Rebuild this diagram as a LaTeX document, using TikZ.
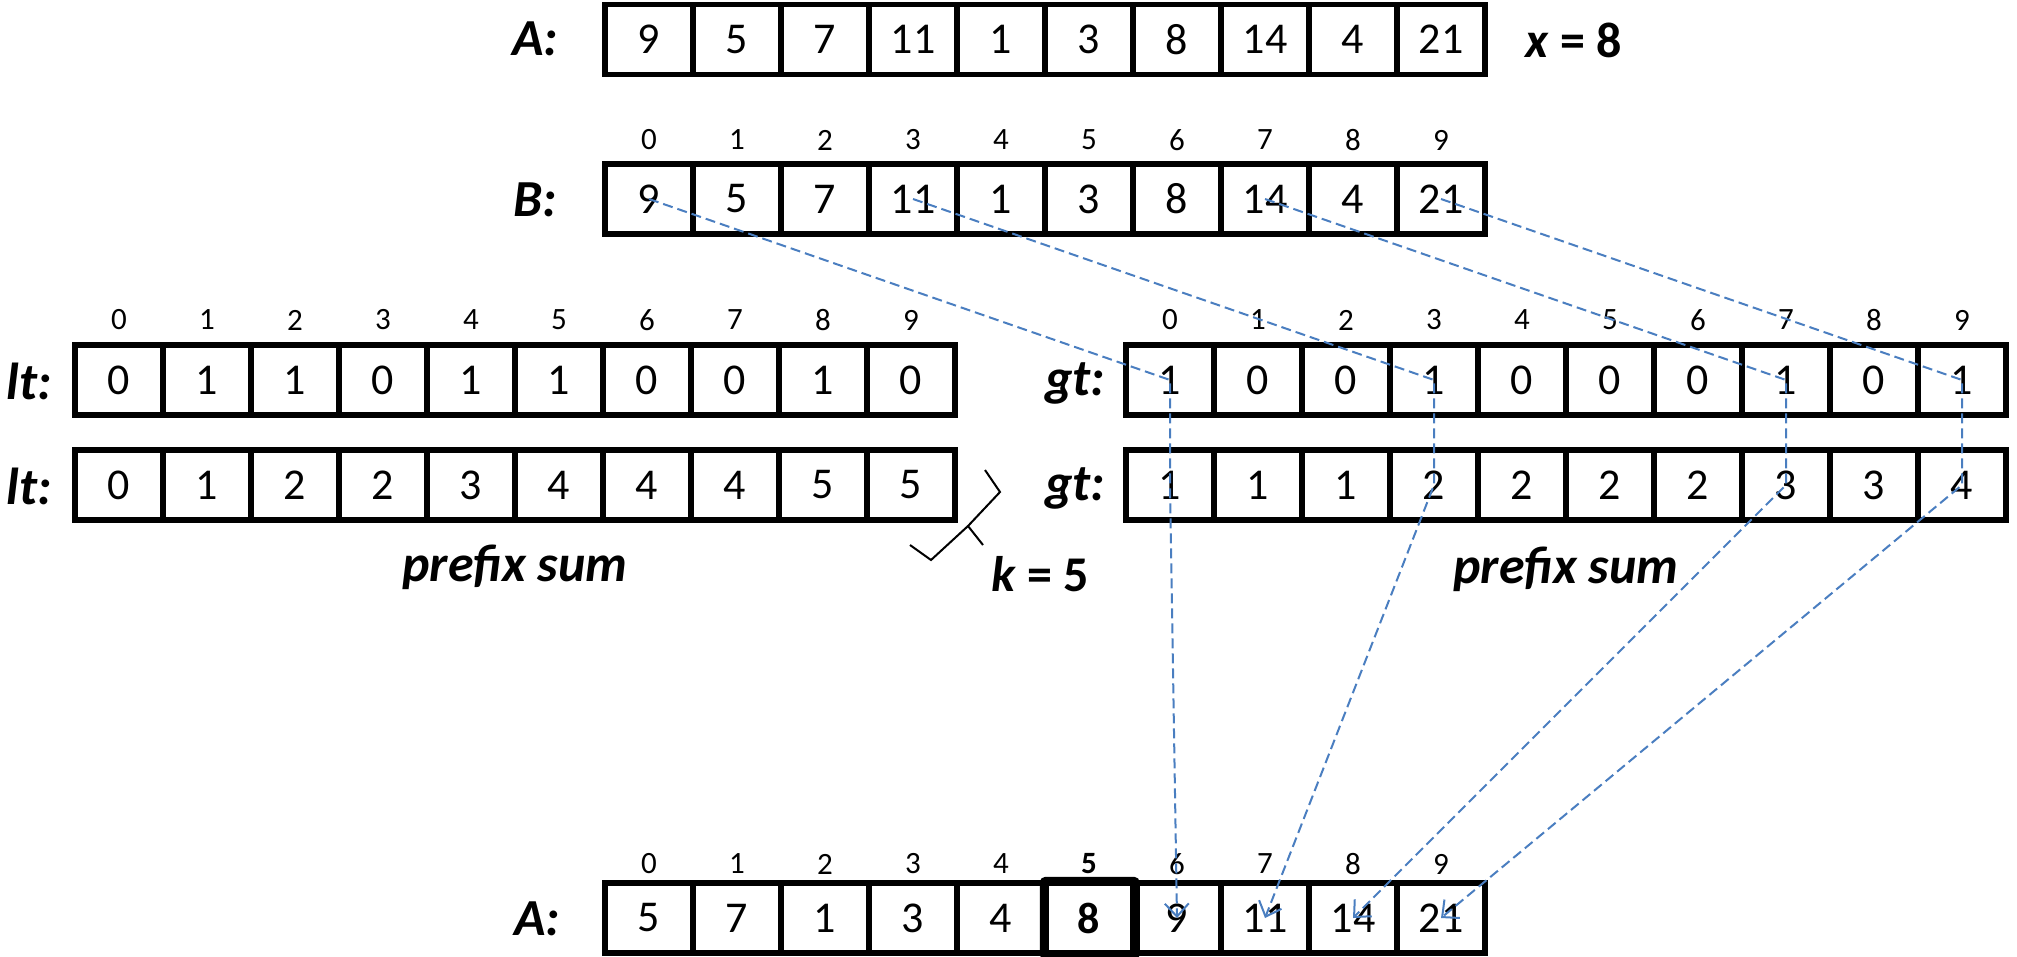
\documentclass[tikz,border=0pt]{standalone}
\usepackage{fontspec}
\setmainfont{Carlito}
\usetikzlibrary{arrows.meta}
\definecolor{arrowblue}{RGB}{74,126,192}
\tikzset{
  cell/.style={draw, line width=5.5pt, minimum width=88pt, minimum height=70pt, inner sep=0pt, font=\fontsize{44}{44}\selectfont},
  idx/.style={inner sep=0pt, font=\fontsize{31}{31}\selectfont},
  lbl/.style={inner sep=0pt, font=\fontsize{52}{52}\selectfont\bfseries\itshape},
  note/.style={inner sep=0pt, font=\fontsize{50}{50}\selectfont\bfseries},
  flow/.style={draw=arrowblue, line width=2pt, dash pattern=on 10pt off 5pt, -{Straight Barb[length=13pt,width=24pt]}},
  bracemark/.style={draw, line width=2pt, line join=miter}
}
\begin{document}
\begin{tikzpicture}[x=1pt,y=-1pt]
\useasboundingbox (0,0) rectangle (2017,956);
% top A row
\foreach \v [count=\i from 0] in {9,5,7,11,1,3,8,14,4,21}
  \node[cell] (ta\i) at ({649+88*\i},39.5) {\v};
\node[lbl] (lA) at (535,39) {A:};
\node[note] (xeq) at (1574,40) {\textit{x} = 8};
% B row
\foreach \v [count=\i from 0] in {9,5,7,11,1,3,8,14,4,21}{
  \node[cell] (b\i) at ({649+88*\i},199) {\v};
  \node[idx] (bi\i) at ({649+88*\i},140) {\i};
}
\node[lbl] (lB) at (535,200) {B:};
% lt rows
\foreach \v [count=\i from 0] in {0,1,1,0,1,1,0,0,1,0}{
  \node[cell] (lt\i) at ({119+88*\i},380) {\v};
  \node[idx] (lti\i) at ({119+88*\i},320) {\i};
}
\foreach \v [count=\i from 0] in {0,1,2,2,3,4,4,4,5,5}
  \node[cell] (lp\i) at ({119+88*\i},485) {\v};
\node[lbl] (llt1) at (29,381) {lt:};
\node[lbl] (llt2) at (29,486) {lt:};
% gt rows
\foreach \v [count=\i from 0] in {1,0,0,1,0,0,0,1,0,1}{
  \node[cell] (gt\i) at ({1170+88*\i},380) {\v};
  \node[idx] (gti\i) at ({1170+88*\i},320) {\i};
}
\foreach \v [count=\i from 0] in {1,1,1,2,2,2,2,3,3,4}
  \node[cell] (gp\i) at ({1170+88*\i},485) {\v};
\node[lbl] (lgt1) at (1075,383) {gt:};
\node[lbl] (lgt2) at (1075,488) {gt:};
% prefix sum labels
\node[lbl] (ps1) at (515,567) {prefix sum};
\node[lbl] (ps2) at (1566,569) {prefix sum};
% brace and k
\draw[bracemark] (985,470) -- (1000,492) -- (968,526) -- (983,545);
\draw[bracemark] (968,526) -- (931,560) -- (910,545);
\node[note] (keq) at (1040,574) {\textit{k} = 5};
% bottom A row
\foreach \v [count=\i from 0] in {5,7,1,3,4,8,9,11,14,21}{
  \ifnum\i=5
    \node[cell, font=\fontsize{44}{44}\selectfont\bfseries] (ra\i) at ({649+88*\i},918) {\v};
    \node[idx, font=\fontsize{31}{31}\selectfont\bfseries] (rai\i) at ({649+88*\i},864) {\i};
  \else
    \node[cell] (ra\i) at ({649+88*\i},918) {\v};
    \node[idx] (rai\i) at ({649+88*\i},864) {\i};
  \fi
}
\draw[line width=9pt, rounded corners=2pt] ([xshift=2pt]ra5.south west) rectangle ([xshift=-0.5pt,yshift=-1pt]ra5.north east);
\node[lbl] (lA2) at (537,919) {A:};
% flows
\draw[flow] (b0.center) -- (gt0.center) -- (gp0.center) -- (ra6.center);
\draw[flow] (b3.center) -- (gt3.center) -- (gp3.center) -- (ra7.center);
\draw[flow] (b7.center) -- (gt7.center) -- (gp7.center) -- (ra8.center);
\draw[flow] (b9.center) -- (gt9.center) -- (gp9.center) -- (ra9.center);
\end{tikzpicture}
\end{document}
